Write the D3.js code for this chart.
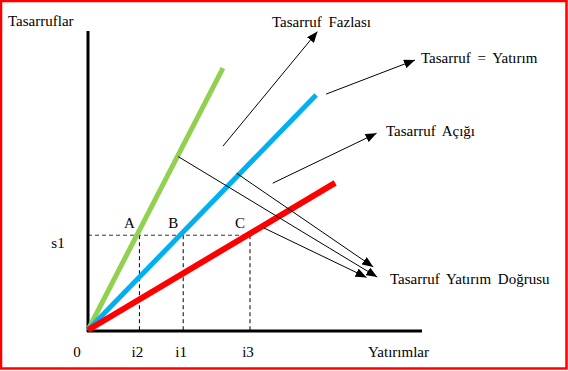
<!DOCTYPE html>
<html>
<head>
<meta charset="utf-8">
<script src="https://cdn.jsdelivr.net/npm/d3@7.9.0/dist/d3.min.js"></script>
<style>
  html, body { margin: 0; padding: 0; background: #fff; }
  svg { display: block; }
  text { font-family: "Liberation Serif", "Times New Roman", serif; font-size: 15px; fill: #000; word-spacing: 3px; }
</style>
</head>
<body>
<svg id="chart" width="568" height="371"></svg>
<script>
// ========== Data ==========
// savings lines (end points in chart units, all start at the origin)
const lineNames = ['green', 'blue', 'red'];
const lineEndX = [40.4, 68.3, 74.0];
const lineEndY = [87.6, 78.6, 49.2];
const lineColors = ['#92D050', '#00B0F0', '#FF0000'];

// savings level and investment points
const s1Value = 31.7;
const pointLabels = ['A', 'B', 'C'];
const investTicks = ['i2', 'i1', 'i3'];
const investValues = [15.4, 28.5, 48.5];

// annotation arrows: [x, y] start and end in chart units
const arrowFrom = [[40.4, 61.5], [71.3, 78.9], [55.3, 49.1], [27.0, 58.0], [44.5, 52.4], [52.7, 34.1]];
const arrowTo = [[68.7, 99.8], [97.9, 90.3], [86.4, 65.8], [86.6, 17.7], [85.4, 21.1], [83.4, 17.6]];

// annotation texts
const noteTexts = ['Tasarruf Fazlası', 'Tasarruf = Yatırım', 'Tasarruf Açığı', 'Tasarruf Yatırım Doğrusu'];
const notePos = [[272, 27], [421, 63], [386, 136], [390, 284]];

// ========== Setup ==========
const svg = d3.select('#chart');
const x = d3.scaleLinear().domain([0, 100]).range([88, 422]);
const y = d3.scaleLinear().domain([0, 100]).range([330, 31]);

// red frame
svg.append('rect')
  .attr('x', 1).attr('y', 1).attr('width', 565.5).attr('height', 367.5)
  .attr('fill', 'none').attr('stroke', '#FF0000').attr('stroke-width', 2.5);

// arrow marker
svg.append('defs').append('marker')
  .attr('id', 'head')
  .attr('viewBox', '0 0 11 9')
  .attr('refX', 11).attr('refY', 4.5)
  .attr('markerWidth', 11).attr('markerHeight', 9)
  .attr('markerUnits', 'userSpaceOnUse')
  .attr('orient', 'auto')
  .append('path').attr('d', 'M0,0 L11,4.5 L0,9 Z').attr('fill', '#000');

// === Dashed guides ===
svg.append('line')
  .attr('x1', x(0)).attr('x2', x(investValues[2]))
  .attr('y1', y(s1Value)).attr('y2', y(s1Value))
  .attr('stroke', '#333').attr('stroke-width', 1).attr('stroke-dasharray', '4,3');

investValues.forEach((v) => {
  svg.append('line')
    .attr('x1', x(v)).attr('x2', x(v))
    .attr('y1', y(s1Value)).attr('y2', y(0))
    .attr('stroke', '#000').attr('stroke-width', 1).attr('stroke-dasharray', '4,3');
});

// === Axes ===
svg.append('line')
  .attr('x1', x(0)).attr('x2', x(0)).attr('y1', y(100)).attr('y2', y(0) + 2)
  .attr('stroke', '#000').attr('stroke-width', 3);
svg.append('line')
  .attr('x1', x(0) - 1).attr('x2', x(100)).attr('y1', y(0) + 1).attr('y2', y(0) + 1)
  .attr('stroke', '#000').attr('stroke-width', 3);

// === Savings lines ===
lineNames.forEach((name, i) => {
  svg.append('line')
    .attr('class', name)
    .attr('x1', x(0)).attr('y1', y(0))
    .attr('x2', x(lineEndX[i])).attr('y2', y(lineEndY[i]))
    .attr('stroke', lineColors[i])
    .attr('stroke-width', i === 2 ? 6 : 5);
});

// === Arrows ===
arrowFrom.forEach((p, i) => {
  svg.append('line')
    .attr('x1', x(p[0])).attr('y1', y(p[1]))
    .attr('x2', x(arrowTo[i][0])).attr('y2', y(arrowTo[i][1]))
    .attr('stroke', '#000').attr('stroke-width', 1)
    .attr('marker-end', 'url(#head)');
});

// === Labels ===
svg.append('text').attr('x', 8).attr('y', 26).text('Tasarruflar');
svg.append('text').attr('x', 368).attr('y', 357).text('Yatırımlar');
svg.append('text').attr('x', x(0) - 11).attr('y', 357).attr('text-anchor', 'middle').text('0');
svg.append('text').attr('x', x(0) - 30).attr('y', 248).attr('text-anchor', 'middle').text('s1');

investTicks.forEach((t, i) => {
  svg.append('text')
    .attr('x', x(investValues[i]) - 2).attr('y', 357)
    .attr('text-anchor', 'middle').text(t);
});

pointLabels.forEach((t, i) => {
  svg.append('text')
    .attr('x', x(investValues[i]) - 10).attr('y', 228)
    .attr('text-anchor', 'middle').text(t);
});

noteTexts.forEach((t, i) => {
  svg.append('text').attr('x', notePos[i][0]).attr('y', notePos[i][1]).text(t);
});
</script>
</body>
</html>
